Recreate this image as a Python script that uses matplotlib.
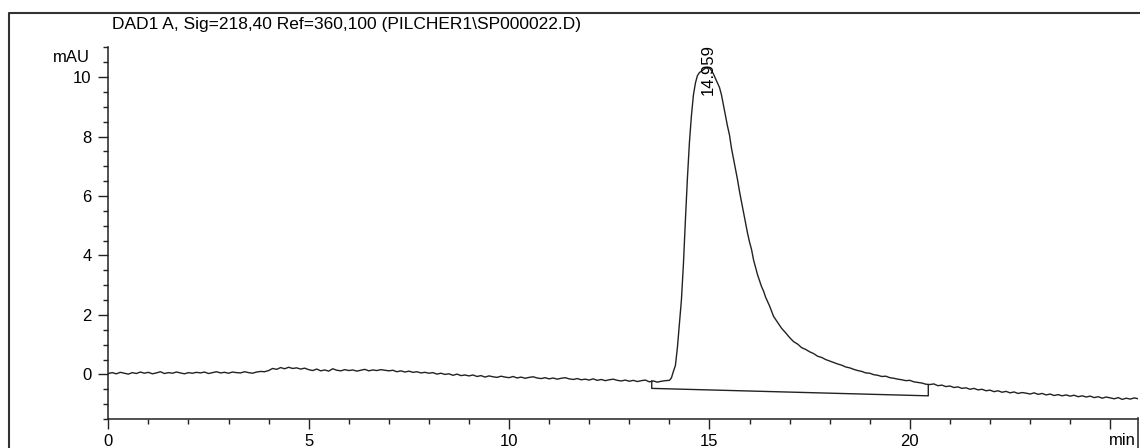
import numpy as np
import matplotlib
matplotlib.use("Agg")
from matplotlib import pyplot as plt
from matplotlib.lines import Line2D
from matplotlib.ticker import MultipleLocator, FixedLocator, FixedFormatter

plt.rcParams['font.family'] = ['Liberation Sans', 'DejaVu Sans']

title = r"DAD1 A, Sig=218,40 Ref=360,100 (PILCHER1\SP000022.D)"
peak_rt = 14.959
x_ticks = [0, 5, 10, 15, 20, 25]
x_labels = ["0", "5", "10", "15", "20", ""]

# detector signal (mAU), 0.0 - 13.9 min every 0.1 min
sig_pre = [
    0.03, 0.06, 0.02, 0.07, 0.04, 0.01, 0.06, 0.03, 0.08, 0.04,
    0.07, 0.02, 0.05, 0.09, 0.03, 0.06, 0.04, 0.08, 0.05, 0.02,
    0.06, 0.04, 0.07, 0.05, 0.08, 0.03, 0.06, 0.09, 0.05, 0.07,
    0.04, 0.08, 0.06, 0.05, 0.09, 0.06, 0.04, 0.08, 0.10, 0.09,
    0.13, 0.20, 0.17, 0.23, 0.19, 0.24, 0.20, 0.22, 0.18, 0.21,
    0.16, 0.13, 0.18, 0.12, 0.15, 0.11, 0.19, 0.14, 0.12, 0.16,
    0.13, 0.15, 0.11, 0.14, 0.17, 0.12, 0.15, 0.13, 0.16, 0.14,
    0.12, 0.14, 0.09, 0.12, 0.08, 0.11, 0.07, 0.09, 0.05, 0.07,
    0.04, 0.06, 0.01, 0.04, 0.00, 0.02, -0.03, 0.01, -0.04, -0.02,
    -0.05, -0.02, -0.07, -0.04, -0.09, -0.05, -0.08, -0.10, -0.06, -0.09,
    -0.11, -0.07, -0.12, -0.09, -0.13, -0.10, -0.08, -0.12, -0.14, -0.11,
    -0.15, -0.12, -0.16, -0.13, -0.11, -0.15, -0.17, -0.14, -0.18, -0.16,
    -0.19, -0.15, -0.20, -0.17, -0.21, -0.18, -0.16, -0.20, -0.22, -0.19,
    -0.23, -0.20, -0.24, -0.21, -0.19, -0.25, -0.22, -0.26, -0.23, -0.21,
]

# peak region, 14.00 - 16.45 min every 0.05 min
sig_peak = [
    -0.20, -0.12, 0.10, 0.30, 0.90, 1.70, 2.50, 3.70, 5.20, 6.60,
    7.80, 8.70, 9.40, 9.80, 10.05, 10.15, 10.20, 10.25, 10.30, 10.32,
    10.30, 10.22, 10.10, 9.95, 9.80, 9.65, 9.40, 9.05, 8.70, 8.35,
    8.05, 7.60, 7.25, 6.90, 6.55, 6.15, 5.80, 5.45, 5.10, 4.75,
    4.45, 4.20, 3.85, 3.60, 3.35, 3.15, 2.95, 2.80, 2.60, 2.45,
]

# tailing and end of run, 16.5 - 25.7 min every 0.1 min
sig_tail = [
    2.30, 1.95, 1.75, 1.55, 1.40,
    1.24, 1.10, 1.02, 0.90, 0.84, 0.76, 0.70, 0.61, 0.57, 0.50,
    0.45, 0.40, 0.35, 0.31, 0.25, 0.22, 0.17, 0.13, 0.10, 0.05,
    0.04, -0.01, -0.03, -0.07, -0.06, -0.11, -0.13, -0.16, -0.18, -0.21,
    -0.20, -0.25, -0.27, -0.29, -0.33, -0.34, -0.32, -0.38, -0.36, -0.41,
    -0.39, -0.44, -0.42, -0.47, -0.45, -0.50, -0.47, -0.52, -0.50, -0.55,
    -0.53, -0.58, -0.55, -0.60, -0.57, -0.62, -0.59, -0.64, -0.61, -0.63,
    -0.66, -0.62, -0.67, -0.64, -0.69, -0.66, -0.71, -0.68, -0.72, -0.69,
    -0.73, -0.70, -0.75, -0.72, -0.76, -0.73, -0.78, -0.75, -0.80, -0.76,
    -0.79, -0.82, -0.78, -0.84, -0.80, -0.83, -0.79, -0.82,
]

# integration baseline with drop lines at start and end
bl_time = [13.56, 13.56, 20.46, 20.46]
bl_signal = [-0.22, -0.47, -0.72, -0.36]

t_pre = 0.1 * np.arange(len(sig_pre))
t_peak = 14.0 + 0.05 * np.arange(len(sig_peak))
t_tail = 16.5 + 0.1 * np.arange(len(sig_tail))
time = np.concatenate([t_pre, t_peak, t_tail])
signal = np.concatenate([sig_pre, sig_peak, sig_tail])

fig = plt.figure(figsize=(11.4, 4.48), dpi=100)
ax = fig.add_axes([0.095, 0.0647, 0.9035, 0.8297])

ax.plot(time, signal, color='#222222', lw=1.0)
ax.plot(bl_time, bl_signal, color='#222222', lw=1.0)

ax.set_xlim(0, 25.7)
ax.set_ylim(-1.5, 11.0)
ax.xaxis.set_major_locator(FixedLocator(x_ticks))
ax.xaxis.set_major_formatter(FixedFormatter(x_labels))
ax.xaxis.set_minor_locator(MultipleLocator(1))
ax.yaxis.set_major_locator(MultipleLocator(2))
ax.yaxis.set_minor_locator(MultipleLocator(0.5))
ax.tick_params(axis='both', which='major', direction='out', length=7, width=1.0,
               labelsize=12, color='#222222')
ax.tick_params(axis='both', which='minor', direction='out', length=3.5, width=1.0,
               color='#222222')
ax.tick_params(axis='x', pad=4)
ax.tick_params(axis='y', pad=5)

for s in ['top', 'right']:
    ax.spines[s].set_visible(False)
for s in ['left', 'bottom']:
    ax.spines[s].set_linewidth(1.1)
    ax.spines[s].set_color('#222222')

ax.text(peak_rt, 9.4, f"{peak_rt:.3f}", rotation=90, ha='center', va='bottom',
        fontsize=12, clip_on=False)

fig.text(112 / 1140, 1 - 25 / 448, title, ha='left', va='center', fontsize=12.5)
fig.text(90 / 1140, 1 - 58 / 448, "mAU", ha='right', va='center', fontsize=12)
fig.text(1136 / 1140, 1 - 433 / 448, "min", ha='right', va='top', fontsize=12)

# outer frame of the printout
fig.add_artist(Line2D([9 / 1140, 9 / 1140, 1.0], [0.0, 1 - 13 / 448, 1 - 13 / 448],
                      transform=fig.transFigure, color='#333333', lw=1.5))
fig.add_artist(Line2D([1137.5 / 1140, 1137.5 / 1140], [0.0, 1 - 418 / 448],
                      transform=fig.transFigure, color='#333333', lw=1.2))

fig.savefig("out.png", dpi=100)
